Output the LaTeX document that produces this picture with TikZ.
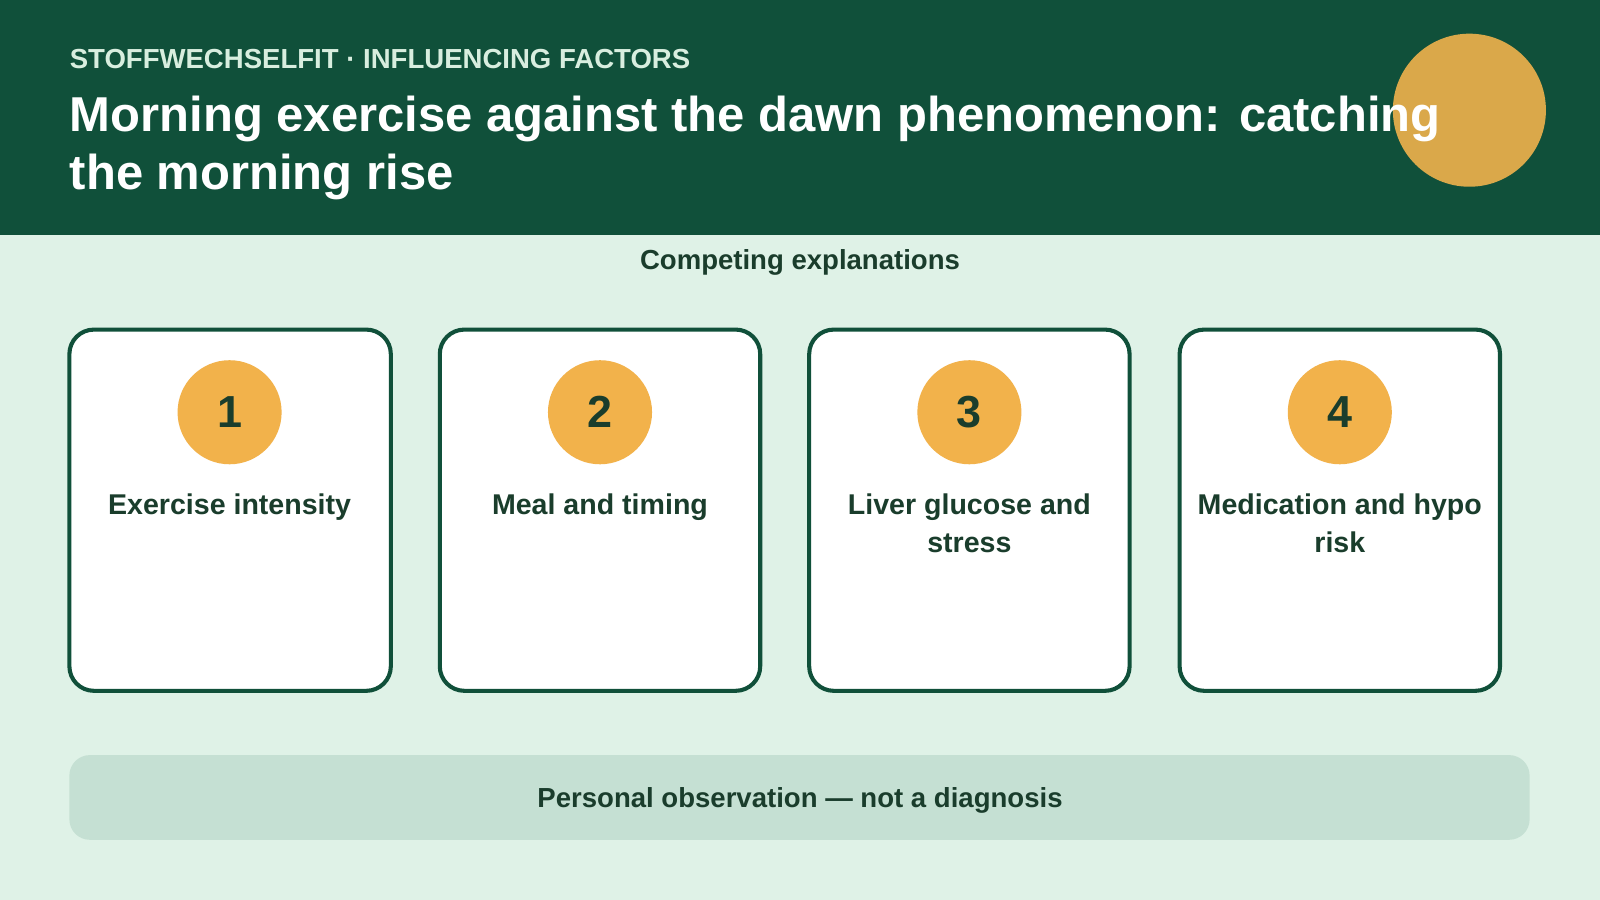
\documentclass[tikz,border=0pt]{standalone}
\usepackage{fontspec}
\setmainfont{Liberation Sans}
\definecolor{headgreen}{HTML}{10503A}
\definecolor{bgmint}{HTML}{DFF2E7}
\definecolor{sun}{HTML}{DAA84A}
\definecolor{badge}{HTML}{F2B24B}
\definecolor{inkgreen}{HTML}{1A3D2C}
\definecolor{notebar}{HTML}{C5E0D3}
\definecolor{kicker}{HTML}{D8EEDF}
\tikzset{
	card/.style = {draw = headgreen, line width = 2pt, fill = white, rounded corners = 12pt},
	badge/.style = {circle, fill = badge, minimum size = 51pt, inner sep = 0pt, text = inkgreen, font = \fontsize{22}{26}\selectfont\bfseries},
	cardlabel/.style = {text = inkgreen, align = center, font = \fontsize{14}{18.5}\selectfont\bfseries, anchor = north}
}
\begin{document}
	\begin{tikzpicture}[x = 0.5pt, y = -0.5pt]
		\useasboundingbox (0, 0) rectangle (1568, 882);
		\fill[bgmint] (0, 0) rectangle (1568, 882);
		\fill[headgreen] (0, 0) rectangle (1568, 230);
		\fill[sun] (1440, 108) circle (75);
		\node (kicker) [anchor = west, text = kicker, font = \fontsize{13.5}{16}\selectfont\bfseries, inner sep = 0pt] at (68, 58) {STOFFWECHSELFIT · INFLUENCING FACTORS};
		\node (title) [anchor = north west, text = white, align = left, font = \fontsize{24}{28.5}\selectfont\bfseries, inner sep = 0pt] at (68, 94) {Morning exercise against the dawn phenomenon: catching\\the morning rise};
		\node (sub) [text = inkgreen, font = \fontsize{13.5}{16}\selectfont\bfseries] at (784, 257) {Competing explanations};
		% cards
		\draw[card] (68, 323) rectangle (383, 677);
		\draw[card] (431, 323) rectangle (745, 677);
		\draw[card] (793, 323) rectangle (1107, 677);
		\draw[card] (1156, 323) rectangle (1470, 677);
		\node (b1) [badge] at (225, 404) {1};
		\node (b2) [badge] at (588, 404) {2};
		\node (b3) [badge] at (950, 404) {3};
		\node (b4) [badge] at (1313, 404) {4};
		\node (l1) [cardlabel] at (225, 477) {Exercise intensity};
		\node (l2) [cardlabel] at (588, 477) {Meal and timing};
		\node (l3) [cardlabel] at (950, 477) {Liver glucose and\\stress};
		\node (l4) [cardlabel] at (1313, 477) {Medication and hypo\\risk};
		% note
		\fill[notebar, rounded corners = 10pt] (68, 740) rectangle (1499, 823);
		\node (note) [text = inkgreen, font = \fontsize{13.5}{16}\selectfont\bfseries] at (784, 784) {Personal observation — not a diagnosis};
	\end{tikzpicture}
\end{document}
